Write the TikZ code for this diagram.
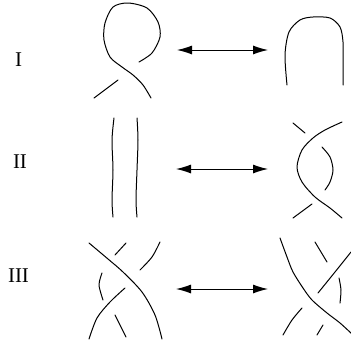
\documentclass[tikz,border=0pt]{standalone}
\usepackage{fontspec}
\setmainfont{Liberation Serif}
\usetikzlibrary{arrows.meta}

\begin{document}
\begin{tikzpicture}[x=1pt,y=-1pt,
    label/.style={
      inner sep=0pt,
      font=\fontsize{21}{23}\selectfont
    }]
\tikzset{strand/.style = {line width=1pt,line cap=round,line join=round}}
\tikzset{move/.style = {{Latex[length=15pt,width=9pt]}-{Latex[length=15pt,width=9pt]},line width=1pt}}
\useasboundingbox (0,0) rectangle (351,343);
\node[label] (mI) at (18.5,60) {I};
\node[label] (mII) at (20,162) {II};
\node[label] (mIII) at (18.5,276) {III};
\coordinate (l1) at (177,50);
\coordinate (r1) at (268,50);
\coordinate (l2) at (176,169);
\coordinate (r2) at (268,169);
\coordinate (l3) at (176,289);
\coordinate (r3) at (268,289);
\draw[move] (l1) -- (r1);
\draw[move] (l2) -- (r2);
\draw[move] (l3) -- (r3);
% move I
\draw[strand] plot[smooth] coordinates {(139,62) (152,53) (160,37) (158,22) (147,8) (128,3) (113,7) (105,23) (104,40) (110,57) (122,67) (133,75) (143,85) (151,98)};
\draw[strand] (118,80) -- (94,98);
\draw[strand] plot[smooth] coordinates {(287,85) (285,55) (289,32) (300,20) (313,17) (330,18) (340,27) (343,42) (343,65) (343,85)};
% move II
\draw[strand] plot[smooth] coordinates {(114,118) (112,140) (113,170) (112,200) (113,217)};
\draw[strand] plot[smooth] coordinates {(137,118) (138,140) (137,170) (136,200) (137,217)};
\draw[strand] plot[smooth] coordinates {(342,122) (325,130) (313,138) (302,150) (297,167) (302,182) (315,197) (330,208) (342,218)};
\draw[strand] (293,123) -- (305,133);
\draw[strand] plot[smooth] coordinates {(322,147) (330,157) (333,170) (330,182) (325,190)};
\draw[strand] (312,204) -- (293,218);
% move III
\draw[strand] plot[smooth] coordinates {(89,243) (108,259) (123,272) (142,292) (155,315) (162,339)};
\draw[strand] plot[smooth] coordinates {(160,242) (152,257) (140,270)};
\draw[strand] plot[smooth] coordinates {(125,288) (110,302) (97,318) (89,339)};
\draw[strand] (126,243) -- (115,255);
\draw[strand] plot[smooth] coordinates {(102,273) (99,285) (103,300)};
\draw[strand] (115,315) -- (126,337);
\draw[strand] plot[smooth] coordinates {(280,238) (287,257) (293,272) (303,288) (312,300) (327,313) (340,323) (352,334)};
\draw[strand] plot[smooth] coordinates {(351,252) (335,272) (318,293)};
\draw[strand] plot[smooth] coordinates {(302,308) (292,320) (283,335)};
\draw[strand] (315,242) -- (327,262);
\draw[strand] plot[smooth] coordinates {(339,278) (341,290) (340,303)};
\draw[strand] (323,325) -- (317,335);
\end{tikzpicture}
\end{document}
